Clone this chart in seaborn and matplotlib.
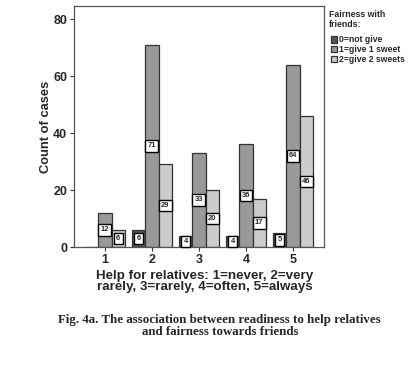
import pandas as pd
import numpy as np
import matplotlib.pyplot as plt
import seaborn as sns

# data
help_levels = ["1", "2", "3", "4", "5"]
fairness = ["0=not give", "1=give 1 sweet", "2=give 2 sweets"]
not_give = [0, 6, 4, 4, 5]
give_one = [12, 71, 33, 36, 64]
give_two = [6, 29, 20, 17, 46]
yticks = [0, 20, 40, 60, 80]

rows = []
for name, vals in zip(fairness, [not_give, give_one, give_two]):
    for lvl, v in zip(help_levels, vals):
        rows.append({"help": lvl, "fairness": name, "count": v})
df = pd.DataFrame(rows)

sns.set_style("white")
plt.rcParams["font.family"] = ["Liberation Sans", "DejaVu Sans"]

fig = plt.figure(figsize=(4.18, 3.72), dpi=100)
ax = fig.add_axes([0.177, 0.336, 0.598, 0.648])

colors = ["#555555", "#999999", "#cccccc"]
sns.barplot(data=df, x="help", y="count", hue="fairness", order=help_levels,
            hue_order=fairness, palette=colors, width=0.85, edgecolor="#333333",
            linewidth=0.9, saturation=1, errorbar=None, ax=ax)

# value boxes in the middle of each bar
for cont in ax.containers:
    for bar in cont:
        h = bar.get_height()
        if h <= 0:
            continue
        ax.text(bar.get_x() + bar.get_width() / 2, h / 2, str(int(h)),
                ha="center", va="center", fontsize=5.4, fontweight="bold",
                bbox=dict(boxstyle="square,pad=0.3", fc="white", ec="black", lw=1.0))

ax.set_xlim(-0.66, 4.66)
ax.set_ylim(0, 84.6)
ax.set_yticks(yticks)
ax.tick_params(axis="both", which="both", length=3, width=0.8, color="#333333",
               labelsize=9, direction="out", left=True, bottom=True, pad=2)
for lab in ax.get_xticklabels() + ax.get_yticklabels():
    lab.set_fontweight("bold")
for sp in ax.spines.values():
    sp.set_color("#555555")
    sp.set_linewidth(0.9)

ax.set_ylabel("Count of cases", fontsize=9.3, fontweight="bold", labelpad=1)
ax.set_xlabel("Help for relatives: 1=never, 2=very\nrarely, 3=rarely, 4=often, 5=always",
              fontsize=9.6, fontweight="bold", labelpad=5, linespacing=0.95)
ax.xaxis.set_label_coords(0.522, -0.095)

# legend: title as separate text, entries below with a gap
handles, labels = ax.get_legend_handles_labels()
ax.legend_.remove()
fig.text(0.787, 0.972, "Fairness with\nfriends:", ha="left", va="top",
         fontsize=6.3, fontweight="bold", linespacing=1.15)
leg = fig.legend(handles, labels, loc="upper left",
                 bbox_to_anchor=(0.783, 0.914), frameon=False, fontsize=6.2,
                 handlelength=0.75, handleheight=0.75,
                 handletextpad=0.25, labelspacing=0.08, borderaxespad=0)
for t in leg.get_texts():
    t.set_fontweight("bold")

fig.text(0.526, 0.124, "Fig. 4a. The association between readiness to help relatives\nand fairness towards friends",
         ha="center", va="center", fontsize=9.3, fontweight="bold",
         family=["Liberation Serif", "DejaVu Serif"], linespacing=1.0)

fig.savefig("out.png", dpi=100)
